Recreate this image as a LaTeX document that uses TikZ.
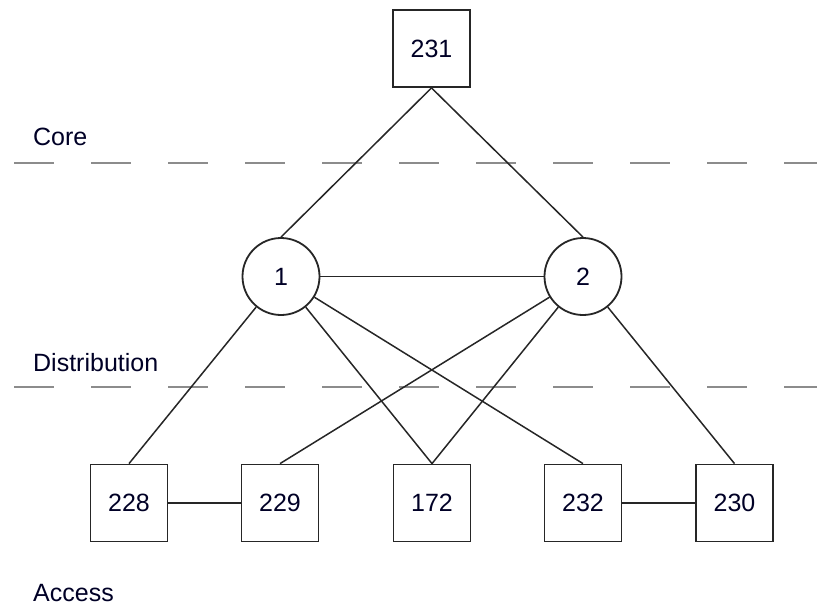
\documentclass[tikz,border=0pt]{standalone}
\usepackage{fontspec}
\setmainfont{Liberation Sans}
\begin{document}
\begin{tikzpicture}[x=1pt,y=-1pt,
  font=\fontsize{25}{29}\selectfont,
  sw/.style={draw=black!85,line width=1.8pt,fill=white,minimum width=77pt,minimum height=77pt,inner sep=0pt,text=black!85!blue},
  rt/.style={draw=black!85,line width=1.8pt,fill=white,circle,minimum size=77pt,inner sep=0pt,text=black!85!blue},
  link/.style={draw=black!85,line width=1.5pt},
  tier/.style={draw=black!45,line width=1.5pt,dash pattern=on 40pt off 37pt},
  lbl/.style={anchor=west,inner sep=0pt,text=black!85!blue}]
\useasboundingbox (0,0) rectangle (817,614);
\draw[tier] (14,163) -- (817,163);
\draw[tier] (14,387) -- (817,387);
\node[lbl] (core) at (33,137) {Core};
\node[lbl] (dist) at (33,363) {Distribution};
\node[lbl] (acc) at (33,593) {Access};
\node[sw] (s231) at (431.5,48.5) {231};
\node[rt] (r1) at (281,276.5) {1};
\node[rt] (r2) at (583,276.5) {2};
\node[sw] (s228) at (129,503) {228};
\node[sw] (s229) at (280,503) {229};
\node[sw] (s172) at (432,503) {172};
\node[sw] (s232) at (583,503) {232};
\node[sw] (s230) at (734.5,503) {230};
\draw[link] (s231.south) -- (r1.north);
\draw[link] (s231.south) -- (r2.north);
\draw[link] (r1) -- (r2);
\draw[link] (r1) -- (s228.north);
\draw[link] (r1) -- (s172.north);
\draw[link] (r1) -- (s232.north);
\draw[link] (r2) -- (s229.north);
\draw[link] (r2) -- (s172.north);
\draw[link] (r2) -- (s230.north);
\draw[link] (s228) -- (s229);
\draw[link] (s232) -- (s230);
\end{tikzpicture}
\end{document}
